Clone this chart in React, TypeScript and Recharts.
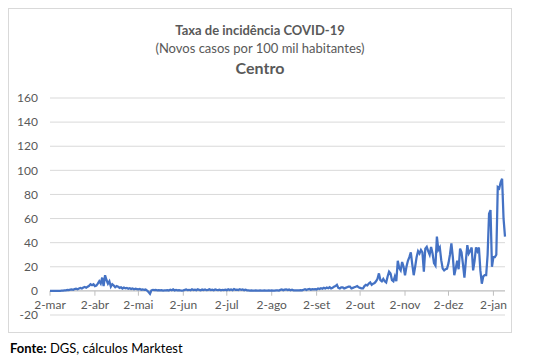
import React from 'react'
import { CartesianGrid, Line, LineChart, ReferenceLine, XAxis, YAxis } from 'recharts'

// Novos casos por 100 mil habitantes, valores diários (2-mar-2020 a 10-jan-2021)
const mar = [0, 0, 0, 0, 0, 0, 0.1, 0.1, 0.2, 0.3, 0.4, 0.5, 0.8, 0.6, 1, 1.2, 0.9, 1.5, 1.8, 1.4, 2, 2.5, 2, 2.8, 3.2, 2.6, 3.5, 4.2, 5.5, 4.8]
const abr = [5.5, 4, 4.5, 6, 8, 6, 11, 4, 13, 9, 6, 8, 3.5, 5.5, 4.5, 3, 4, 3.5, 2.5, 3, 2, 2.8, 2.2, 2.5, 1.8, 2.2, 1.5, 2, 1.4, 1.8]
const mai = [1.5, 1.2, 1.6, 1, 1.3, 0.8, 1.1, 0.3, -1, -2.5, 0.5, 0.9, 0.6, 0.8, 0.5, 0.7, 0.4, 0.6, 0.3, 0.5, 0.4, 0.6, 0.3, 0.9, 0.5, 1.2, 0.4, 0.8, 0.5, 0.6, 0.4]
const jun = [0.3, 0.5, 0.8, 1.2, 0.6, 0.9, 0.5, 1.3, 0.7, 1, 0.6, 1.4, 0.8, 0.5, 1.1, 0.7, 1.2, 0.6, 0.9, 1.3, 0.7, 1, 0.5, 1.2, 0.8, 0.6, 1, 0.5, 0.9, 0.7]
const jul = [1, 0.6, 1.4, 0.8, 1.2, 0.6, 1.5, 0.9, 1.1, 0.7, 1.3, 0.8, 1.2, 0.6, 1, 0.5, 0.4, 0.3, 0.4, 0.3, 0.3, 0.4, 0.3, 0.3, 0.4, 0.3, 0.3, 0.4, 0.3, 0.3, 0.4]
const ago = [0.3, 0.4, 0.3, 0.3, 0.5, 0.4, 0.3, 0.8, 1.2, 0.6, 1, 1.3, 0.7, 1.1, 0.5, 0.9, 0.4, 0.5, 0.4, 0.5, 0.4, 0.6, 0.5, 1, 1.4, 0.8, 1.3, 1.6, 0.9, 1.4, 1.2]
const set = [1.5, 1.2, 2, 1.6, 2.2, 1.8, 2.5, 2, 2.8, 2.2, 3, 2, 2.5, 3.5, 4, 5, 2.5, 2, 3, 3, 2, 2.5, 3, 3.5, 3.5, 2, 2.5, 3, 3.5, 4]
const out = [3, 2.5, 2, 2, 4, 5, 4.5, 6, 7, 5, 6, 6.5, 8, 10, 14.5, 9, 8, 10, 8, 7, 12, 16, 14.5, 9, 8, 12, 8, 25, 19, 17, 24]
const nov = [20, 13, 20, 25, 28, 32, 22, 13, 20, 28, 33, 31, 34, 32, 16, 35, 36.5, 33, 30, 36.5, 31, 23, 21, 45, 34, 36, 25.5, 18.5, 17, 18]
const dez = [18.5, 23, 30, 39.5, 28, 13, 18.5, 25, 18, 35, 32, 22, 11, 25, 38, 31, 33, 36, 17, 25, 36, 33, 36, 17, 6, 12, 13, 13, 30, 64, 67]
const jan = [20, 28, 28, 30, 86, 85, 90, 93, 60, 45]

const MESES = ['jan', 'fev', 'mar', 'abr', 'mai', 'jun', 'jul', 'ago', 'set', 'out', 'nov', 'dez']
const ROTULOS_X = ['2-mar', '2-abr', '2-mai', '2-jun', '2-jul', '2-ago', '2-set', '2-out', '2-nov', '2-dez', '2-jan']
const TICKS_Y = [-20, 0, 20, 40, 60, 80, 100, 120, 140, 160]

const valores = [...mar, ...abr, ...mai, ...jun, ...jul, ...ago, ...set, ...out, ...nov, ...dez, ...jan]

const data = valores.map((valor, i) => {
  const d = new Date(2020, 2, 2 + i)
  return { dia: i, rotulo: `${d.getDate()}-${MESES[d.getMonth()]}`, valor }
})

const ticksX = ROTULOS_X.map((r) => data.find((p) => p.rotulo === r)!.dia)
const rotuloPorDia: Record<number, string> = {}
data.forEach((p) => (rotuloPorDia[p.dia] = p.rotulo))

const cinza = '#595959'
const fonte = 'Lato, "Open Sans", sans-serif'

// rótulos do eixo X junto à linha do zero (como no Excel)
function TickX(props: any) {
  const { x, y, payload } = props
  return (
    <text x={x} y={y - 10} dy="0.35em" textAnchor="middle" fill={cinza} fontSize={12} fontFamily={fonte}>
      {rotuloPorDia[payload.value]}
    </text>
  )
}

export default function App() {
  return (
    <div style={{ position: 'relative', width: 520, height: 355, fontFamily: fonte }}>
      <div style={{ position: 'absolute', left: 0, top: 0, width: 502, height: 323, border: '1px solid #d9d9d9' }}>
        <div style={{ position: 'absolute', left: 0, top: 13, width: 502, textAlign: 'center', lineHeight: '16px', fontSize: 13, fontWeight: 700, color: cinza }}>
          Taxa de incidência COVID-19
        </div>
        <div style={{ position: 'absolute', left: 0, top: 31, width: 502, textAlign: 'center', lineHeight: '16px', fontSize: 13, color: cinza }}>
          (Novos casos por 100 mil habitantes)
        </div>
        <div style={{ position: 'absolute', left: 0, top: 50, width: 502, textAlign: 'center', lineHeight: '18px', fontSize: 16, fontWeight: 700, color: cinza }}>
          Centro
        </div>
        <LineChart width={502} height={323} data={data} margin={{ top: 89, right: 6, bottom: 0, left: 0 }}>
          <CartesianGrid vertical={false} stroke="#d9d9d9" />
          <XAxis
            dataKey="dia"
            type="number"
            domain={[0, valores.length - 1]}
            ticks={ticksX}
            tick={TickX}
            tickSize={0}
            tickMargin={0}
            axisLine={false}
            tickLine={false}
            height={17}
            interval={0}
          />
          <YAxis
            domain={[-20, 160]}
            ticks={TICKS_Y}
            width={41}
            axisLine={false}
            tickLine={false}
            tickMargin={6}
            tick={{ fill: cinza, fontSize: 12, fontFamily: fonte }}
            interval={0}
          />
          <ReferenceLine y={0} stroke="#bfbfbf" />
          {ticksX.map((t) => (
            <ReferenceLine key={t} segment={[{ x: t, y: 0 }, { x: t, y: -4 }]} stroke="#bfbfbf" />
          ))}
          <Line
            type="linear"
            dataKey="valor"
            stroke="#4472C4"
            strokeWidth={2.25}
            dot={false}
            isAnimationActive={false}
          />
        </LineChart>
      </div>
      <div style={{ position: 'absolute', left: 2, top: 332, lineHeight: '16px', fontSize: 13, color: '#000' }}>
        <b>Fonte:</b> DGS, cálculos Marktest
      </div>
    </div>
  )
}
